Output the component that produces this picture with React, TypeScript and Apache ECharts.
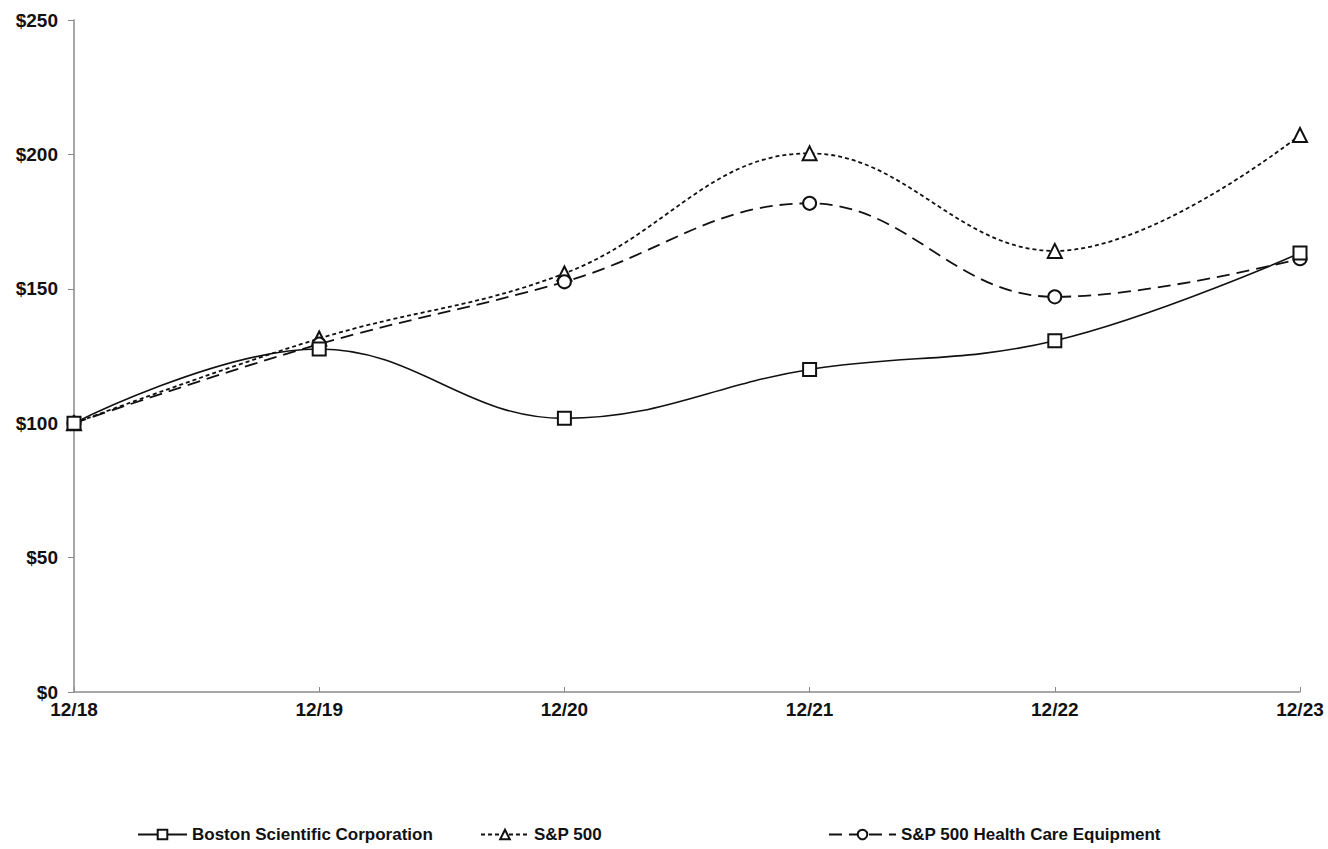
import React, { useEffect, useRef } from "react";
import * as echarts from "echarts";

const categories = ["12/18", "12/19", "12/20", "12/21", "12/22", "12/23"];
const seriesNames = [
  "Boston Scientific Corporation",
  "S&P 500",
  "S&P 500 Health Care Equipment",
];
const bostonScientific = [100, 127.6, 101.8, 120.0, 130.7, 163.3];
const sp500 = [100, 131.5, 155.7, 200.4, 164.1, 207.2];
const sp500HealthCare = [100, 129.4, 152.6, 181.8, 147.0, 161.2];

const FONT = "Arial, 'Liberation Sans', sans-serif";
const LINE = "#111111";

export default function App() {
  const ref = useRef<HTMLDivElement>(null);

  useEffect(() => {
    if (!ref.current) return;
    const chart = echarts.init(ref.current, undefined, { renderer: "svg" });
    const legendText = {
      fontFamily: FONT,
      fontWeight: "bold" as const,
      fontSize: 17,
      color: "#111",
    };
    const mkLegend = (name: string, left: number, width: number) => ({
      data: [name],
      left,
      top: 821,
      itemWidth: width,
      itemHeight: 12,
      textStyle: legendText,
    });
    chart.setOption({
      animation: false,
      backgroundColor: "#ffffff",
      grid: { left: 74, right: 28, top: 20, bottom: 157, containLabel: false },
      legend: [
        mkLegend(seriesNames[0], 132, 49),
        mkLegend(seriesNames[1], 475, 48),
        mkLegend(seriesNames[2], 823, 67),
      ],
      xAxis: {
        type: "category",
        data: categories,
        boundaryGap: false,
        axisLine: { lineStyle: { color: "#8a8a8a", width: 1.5 } },
        axisTick: { inside: true, length: 5, lineStyle: { color: "#8a8a8a" } },
        axisLabel: {
          fontFamily: FONT,
          fontWeight: "bold",
          fontSize: 19,
          color: "#111",
          margin: 8,
        },
        splitLine: { show: false },
      },
      yAxis: {
        type: "value",
        min: 0,
        max: 250,
        interval: 50,
        axisLine: { show: true, lineStyle: { color: "#8a8a8a", width: 1.5 } },
        axisTick: { show: true, inside: false, length: 6, lineStyle: { color: "#8a8a8a" } },
        axisLabel: {
          fontFamily: FONT,
          fontWeight: "bold",
          fontSize: 19,
          color: "#111",
          margin: 16,
          formatter: (v: number) => "$" + v,
        },
        splitLine: { show: false },
      },
      series: [
        {
          name: seriesNames[0],
          type: "line",
          data: bostonScientific,
          smooth: 0.4,
          symbol: "emptyRect",
          symbolSize: 13,
          lineStyle: { color: LINE, width: 1.6, type: "solid" },
          itemStyle: { color: LINE, borderWidth: 1.5 },
          z: 3,
        },
        {
          name: seriesNames[1],
          type: "line",
          data: sp500,
          smooth: 0.4,
          symbol: "emptyTriangle",
          symbolSize: 14,
          lineStyle: { color: LINE, width: 1.8, type: [4, 3] },
          itemStyle: { color: LINE, borderWidth: 1.5 },
          z: 2,
        },
        {
          name: seriesNames[2],
          type: "line",
          data: sp500HealthCare,
          smooth: 0.4,
          symbol: "emptyCircle",
          symbolSize: 13,
          lineStyle: { color: LINE, width: 1.8, type: [13, 7] },
          itemStyle: { color: LINE, borderWidth: 1.5 },
          z: 2,
        },
      ],
    });
    return () => chart.dispose();
  }, []);

  return (
    <div
      ref={ref}
      style={{ position: "fixed", left: 0, top: 0, width: 1328, height: 849 }}
    />
  );
}
